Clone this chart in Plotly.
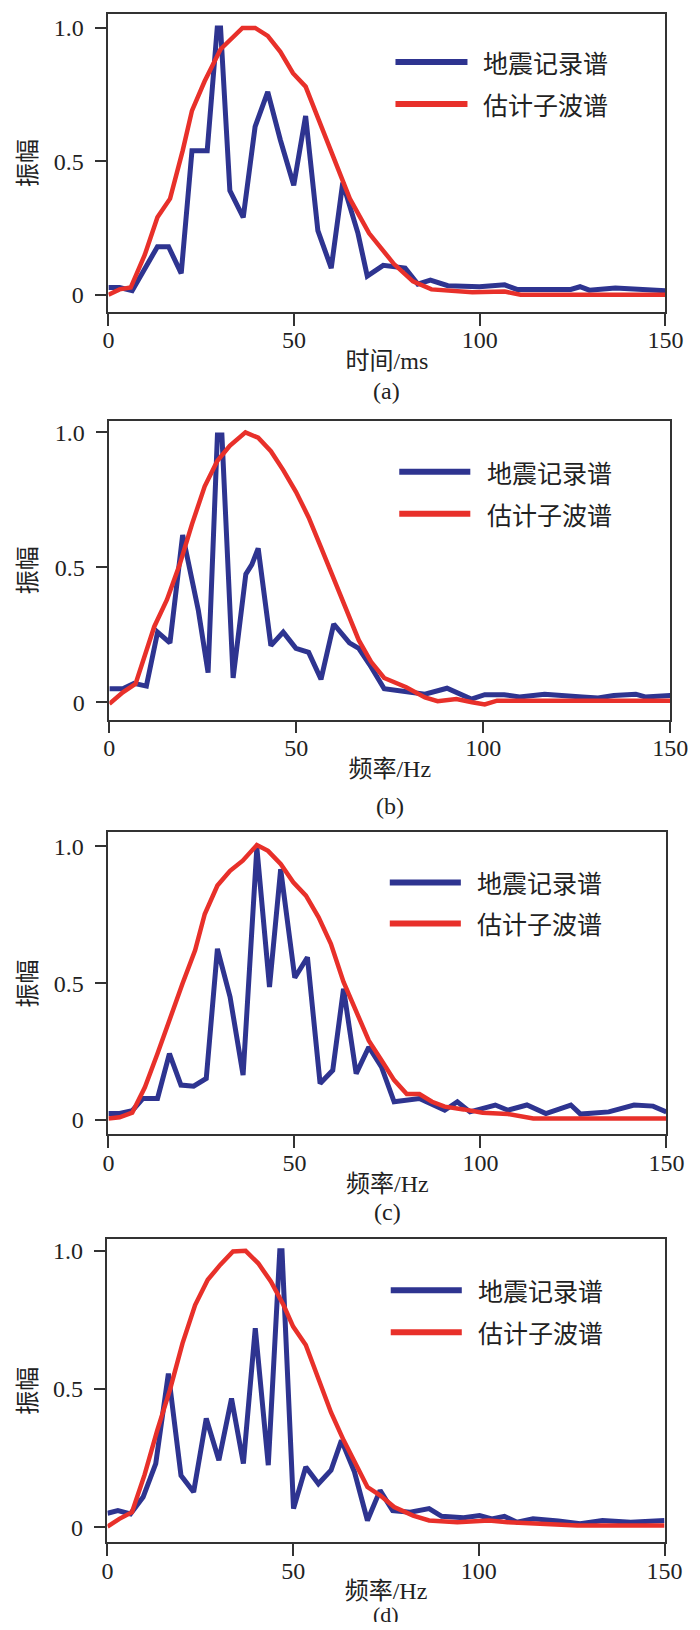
import plotly.graph_objects as go

# (a) 时间/ms
xa_blue = [0, 3, 6.4, 9.8, 13.2, 16.2, 19.6, 22.5, 26.6, 29.3, 30.2, 32.7, 36.3, 39.5, 42.9, 46.3, 49.9,
           53.1, 56.4, 60, 63.1, 67.2, 69.7, 74, 79.9, 83.3, 86.7, 91.4, 99.9, 106.7, 110, 124.5, 127,
           129.5, 136.5, 150]
ya_blue = [0.027, 0.027, 0.015, 0.10, 0.18, 0.18, 0.08, 0.54, 0.54, 1.0, 1.0, 0.39, 0.29, 0.63, 0.76,
           0.58, 0.41, 0.67, 0.24, 0.10, 0.42, 0.23, 0.07, 0.11, 0.10, 0.04, 0.055, 0.034, 0.03, 0.037,
           0.02, 0.02, 0.03, 0.017, 0.025, 0.015]
xa_red = [0, 3, 6, 9.8, 13.2, 16.6, 20, 22.5, 25.9, 30.2, 36.1, 39.5, 42.9, 46.3, 49.7, 53.1, 56.5,
          60.5, 65, 70.2, 76.9, 82, 87, 98, 106.7, 111, 128, 150]
ya_red = [0.0, 0.02, 0.027, 0.15, 0.29, 0.36, 0.54, 0.69, 0.80, 0.92, 1.0, 1.0, 0.97, 0.91, 0.83, 0.78,
          0.66, 0.52, 0.36, 0.23, 0.115, 0.05, 0.02, 0.009, 0.012, 0.0, 0.0, 0.0]

# (b) 频率/Hz
xb_blue = [0, 3.6, 6.6, 9.9, 12.9, 16.2, 19.6, 21.3, 23.8, 26.4, 28.9, 30.1, 33.1, 36.5, 38.1, 39.8,
           43.2, 46.5, 49.9, 53.3, 56.6, 60, 64.2, 66.7, 69.6, 73.5, 77.7, 84.4, 90.3, 93.7, 96.8,
           100.4, 105.6, 109.7, 116.4, 126.5, 130.7, 134.9, 140.8, 143.3, 150]
yb_blue = [0.05, 0.05, 0.07, 0.06, 0.26, 0.22, 0.62, 0.50, 0.34, 0.11, 0.99, 0.99, 0.09, 0.475, 0.51,
           0.57, 0.21, 0.26, 0.20, 0.185, 0.085, 0.29, 0.22, 0.20, 0.14, 0.05, 0.043, 0.03, 0.052, 0.03,
           0.012, 0.028, 0.028, 0.02, 0.03, 0.02, 0.016, 0.025, 0.03, 0.02, 0.025]
xb_red = [0, 3.6, 7, 9.5, 12, 15.4, 18.8, 22.1, 25.5, 28.9, 32.2, 36.4, 39.8, 43.2, 46.5, 49.9, 53.3,
          56.6, 60, 63.4, 66.7, 70, 73.5, 79.4, 84.4, 87.8, 92.8, 97, 100.4, 103.7, 150]
yb_red = [-0.006, 0.037, 0.068, 0.17, 0.28, 0.38, 0.51, 0.66, 0.80, 0.895, 0.95, 1.0, 0.98, 0.93, 0.86,
          0.78, 0.685, 0.574, 0.46, 0.35, 0.23, 0.15, 0.09, 0.056, 0.018, 0.004, 0.012, 0.0, -0.008,
          0.006, 0.006]

# (c) 频率/Hz
xc_blue = [0, 3, 6.4, 9.3, 13.2, 16.4, 19.5, 22.9, 26.3, 29.3, 32.7, 36.2, 39.9, 43.3, 46.3, 50.1,
           53.5, 56.9, 60.3, 63.2, 66.6, 70, 73.4, 76.8, 83.6, 90.4, 93.8, 97.2, 104, 107.4, 112.5,
           117.6, 124.3, 126.9, 134.5, 141.3, 146.4, 150]
yc_blue = [0.024, 0.024, 0.034, 0.079, 0.079, 0.243, 0.128, 0.124, 0.152, 0.626, 0.45, 0.164, 0.996,
           0.486, 0.917, 0.52, 0.595, 0.134, 0.182, 0.48, 0.17, 0.267, 0.194, 0.067, 0.079, 0.036,
           0.067, 0.03, 0.055, 0.036, 0.055, 0.024, 0.055, 0.022, 0.03, 0.055, 0.051, 0.03]
xc_red = [0, 3, 6.4, 9.8, 13.2, 16.6, 19.9, 23.3, 25.9, 29.3, 32.7, 36.1, 39.9, 42.9, 46.3, 49.7, 53.1,
          56.5, 59.8, 63.2, 66.6, 70, 73.4, 76.8, 80.2, 83.6, 87, 90.4, 95.5, 100.6, 107.4, 112.5,
          114.2, 150]
yc_red = [0.006, 0.01, 0.027, 0.12, 0.243, 0.377, 0.498, 0.62, 0.753, 0.857, 0.911, 0.948, 1.005,
          0.984, 0.936, 0.869, 0.82, 0.741, 0.644, 0.505, 0.40, 0.29, 0.219, 0.146, 0.095, 0.095,
          0.067, 0.049, 0.039, 0.027, 0.022, 0.012, 0.006, 0.006]

# (d) 频率/Hz
xd_blue = [0, 2.8, 6.2, 9.6, 13, 16.4, 19.8, 23.2, 26.6, 30, 33.4, 36.6, 39.8, 43.3, 46.4, 47, 50.1,
           53.4, 56.8, 60.2, 63, 66.5, 70, 73.4, 76.8, 81.5, 86.6, 90, 95.9, 100.2, 103.5, 106.9,
           110.3, 114.6, 121.4, 127.3, 133.3, 140.9, 150]
yd_blue = [0.05, 0.06, 0.048, 0.109, 0.23, 0.556, 0.187, 0.127, 0.393, 0.242, 0.466, 0.23, 0.72,
           0.224, 1.0, 1.0, 0.067, 0.218, 0.157, 0.206, 0.314, 0.2, 0.024, 0.133, 0.06, 0.054, 0.067,
           0.039, 0.034, 0.042, 0.03, 0.039, 0.018, 0.03, 0.022, 0.012, 0.024, 0.018, 0.024]
xd_red = [0, 3.2, 6.6, 10, 13.4, 16.8, 20.2, 23.6, 27, 30.4, 33.8, 37.2, 40.6, 44, 47.4, 50, 53.4,
          56.8, 60.2, 63.6, 67, 70, 73.4, 77.2, 82.3, 86.6, 94.2, 102.7, 107.8, 114.6, 126.5, 150]
yd_red = [0.002, 0.03, 0.054, 0.19, 0.35, 0.496, 0.665, 0.804, 0.895, 0.95, 0.998, 1.0, 0.955, 0.889,
          0.804, 0.726, 0.659, 0.532, 0.415, 0.314, 0.225, 0.145, 0.115, 0.073, 0.042, 0.024, 0.018,
          0.024, 0.018, 0.015, 0.006, 0.006]

series_names = ["地震记录谱", "估计子波谱"]
x_titles = ["时间/ms", "频率/Hz", "频率/Hz", "频率/Hz"]
panel_tags = ["(a)", "(b)", "(c)", "(d)"]
x_ticks = [0, 50, 100, 150]
y_ticks = [0, 0.5, 1.0]
y_ticktext = ["0", "0.5", "1.0"]

# page body keeps its 8px margin, so the figure is 16px smaller than the window
PAD = 8
W, H = 700 - 2 * PAD, 1630 - 2 * PAD
BLUE = "#2e3490"
RED = "#e8302a"
SERIF = "Liberation Serif, Noto Sans CJK SC"
CJK = "Noto Sans CJK SC"

# pixel boxes measured on the 700x1630 scan: plot left/right/top/bottom, y range,
# legend key (x0, x1, text x, row1 y, row2 y), tag y and tag size
boxes = [
    dict(l=95, r=683, t=13, b=311, yr=[-0.064, 1.052], key=(398, 474, 488, 61, 103), tag=390, ts=24),
    dict(l=96, r=688, t=420, b=719, yr=[-0.064, 1.043], key=(402, 477, 492, 471, 513), tag=805, ts=24),
    dict(l=95, r=684, t=832, b=1134, yr=[-0.052, 1.051], key=(392, 467, 482, 882, 923), tag=1212, ts=24),
    dict(l=94, r=682, t=1239, b=1542, yr=[-0.054, 1.042], key=(393, 468, 483, 1290, 1332), tag=1614, ts=22),
]
data = [
    (xa_blue, ya_blue, xa_red, ya_red),
    (xb_blue, yb_blue, xb_red, yb_red),
    (xc_blue, yc_blue, xc_red, yc_red),
    (xd_blue, yd_blue, xd_red, yd_red),
]


def fx(p):
    return (p - PAD) / W


def fy(p):
    return 1 - (p - PAD) / H


fig = go.Figure()
layout = {}
for i, (bx, d) in enumerate(zip(boxes, data)):
    n = "" if i == 0 else str(i + 1)
    pairs = [(d[0], d[1], BLUE, 5, series_names[0]), (d[2], d[3], RED, 4.5, series_names[1])]
    for xs, ys, col, lw, name in pairs:
        fig.add_trace(go.Scatter(x=xs, y=ys, mode="lines", name=name, line=dict(color=col, width=lw),
                                 xaxis="x" + n, yaxis="y" + n, showlegend=False))

    axis_common = dict(showline=True, mirror=True, linecolor="#333", linewidth=1.5, ticks="outside",
                       ticklen=12, tickwidth=1.5, tickcolor="#333", showgrid=False, zeroline=False,
                       ticklabeloverflow="allow",
                       tickfont=dict(family=SERIF, size=24, color="#222"))
    layout["xaxis" + n] = dict(axis_common, domain=[fx(bx["l"]), fx(bx["r"])], range=[0, 150],
                               tickvals=x_ticks, anchor="y" + n, ticklabelstandoff=-6,
                               title=dict(text=x_titles[i], font=dict(family=SERIF, size=24, color="#222"),
                                          standoff=0))
    layout["yaxis" + n] = dict(axis_common, domain=[fy(bx["b"]), fy(bx["t"])], range=bx["yr"],
                               tickvals=y_ticks, ticktext=y_ticktext, anchor="x" + n,
                               ticklabelstandoff=6,
                               title=dict(text="振幅", font=dict(family=CJK, size=24, color="#222"),
                                          standoff=28))

    # legend drawn as keys + labels so the key length matches the scan
    x0, x1, tx, r1, r2 = bx["key"]
    for (col, name), ry in zip([(BLUE, series_names[0]), (RED, series_names[1])], [r1, r2]):
        fig.add_shape(type="line", xref="paper", yref="paper", x0=fx(x0), x1=fx(x1), y0=fy(ry), y1=fy(ry),
                      line=dict(color=col, width=6))
        fig.add_annotation(text=name, x=fx(tx), y=fy(ry), xref="paper", yref="paper", showarrow=False,
                           xanchor="left", yanchor="middle", font=dict(family=CJK, size=25, color="#222"))

    fig.add_annotation(text=panel_tags[i], x=fx((bx["l"] + bx["r"]) / 2), y=fy(bx["tag"]),
                       xref="paper", yref="paper", showarrow=False, xanchor="center", yanchor="middle",
                       font=dict(family=SERIF, size=bx["ts"], color="#222"))

fig.update_layout(width=W, height=H, margin=dict(l=0, r=0, t=0, b=0), plot_bgcolor="white",
                  paper_bgcolor="white", **layout)
fig.write_html("out.html")
